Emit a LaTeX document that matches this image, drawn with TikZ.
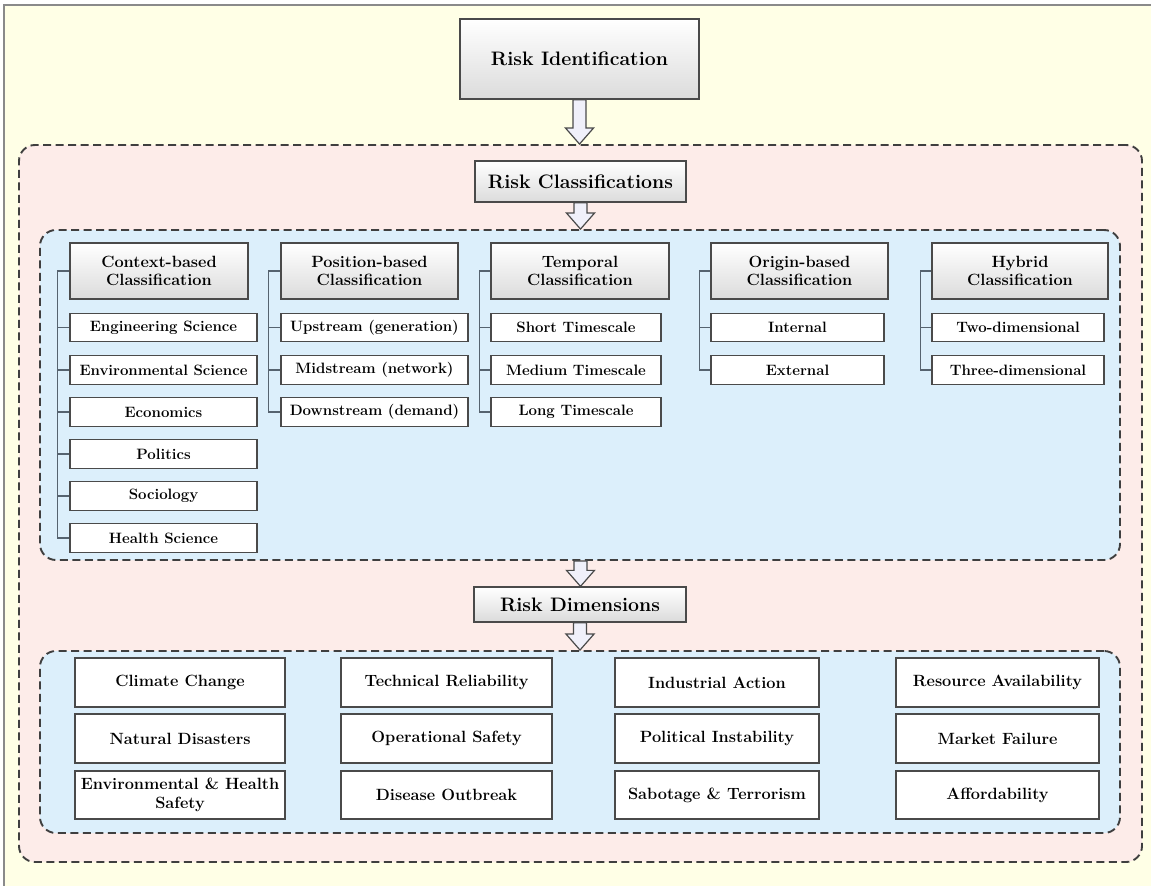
\documentclass[tikz,border=0pt]{standalone}
\usepackage{fontspec}
\usetikzlibrary{calc}
\definecolor{bgyellow}{HTML}{FFFFE6}
\definecolor{pinkbg}{HTML}{FDECE9}
\definecolor{bluebg}{HTML}{DCEFFB}
\definecolor{dashgray}{HTML}{3F3F3F}
\definecolor{boxgray}{HTML}{4A4A4A}
\definecolor{treecol}{HTML}{56636F}
\definecolor{framegray}{HTML}{8A8A8A}
\definecolor{arrowfill}{HTML}{F0F0FA}
\newcommand{\myBigFont}{\fontsize{19.5}{23}\selectfont\bfseries}
\newcommand{\myHdrFont}{\fontsize{16.3}{18.5}\selectfont\bfseries}
\newcommand{\myItemFont}{\fontsize{15}{17}\selectfont\bfseries}
\newcommand{\myDimFont}{\fontsize{16.3}{19}\selectfont\bfseries}
\newcommand{\blockarrow}[2]{%
  \draw[blockarr] let \p1=(#1), \p2=(#2) in
    (\x1-6.5pt,\y1) -- (\x1-6.5pt,\y2+16pt) -- (\x1-14pt,\y2+16pt) -- (\x1,\y2)
    -- (\x1+14pt,\y2+16pt) -- (\x1+6.5pt,\y2+16pt) -- (\x1+6.5pt,\y1) -- cycle;}
\begin{document}
\begin{tikzpicture}[x=1pt,y=-1pt,
  container/.style={draw=dashgray, line width=1.9pt, dash pattern=on 8pt off 4.5pt,
    rounded corners=16pt, inner sep=0pt},
  mainbox/.style={draw=boxgray, line width=1.3pt, top color=white, bottom color=black!14,
    align=center, inner sep=0pt},
  hdr/.style={draw=boxgray, line width=1.3pt, top color=white, bottom color=black!14,
    align=center, inner sep=0pt, font=\myHdrFont, minimum height=56pt},
  item/.style={draw=boxgray, line width=1.2pt, fill=white, align=center, inner sep=0pt,
    font=\myItemFont, minimum height=28.5pt},
  dim/.style={draw=boxgray, line width=1.3pt, fill=white, align=center, inner sep=0pt,
    font=\myDimFont},
  tree/.style={draw=treecol, line width=1.5pt},
  blockarr/.style={draw=boxgray, line width=1.2pt, fill=arrowfill, line join=miter}
]
\useasboundingbox (0,0) rectangle (1151,886);
\fill[bgyellow] (4,5) rectangle (1151,886);
\draw[framegray, line width=1.5pt] (4,886) -- (4,5) -- (1151,5);

% containers
\node[container, fill=pinkbg, minimum width=1123pt, minimum height=717pt] (outer) at (580.5,503.5) {};
\node[container, fill=bluebg, minimum width=1080pt, minimum height=330pt] (clsarea) at (580,395) {};
\node[container, fill=bluebg, minimum width=1080pt, minimum height=182pt] (dimarea) at (580,742) {};

% main boxes
\node[mainbox, font=\myBigFont, minimum width=239pt, minimum height=80pt] (rid) at (579.5,59) {Risk Identification};
\node[mainbox, font=\myBigFont, minimum width=211pt, minimum height=41pt] (rcl) at (580.5,181.5) {Risk Classifications};
\node[mainbox, font=\myBigFont, minimum width=212pt, minimum height=35pt] (rdm) at (580,604.5) {Risk Dimensions};

% block arrows
\blockarrow{rid.south}{rid.south |- outer.north}
\blockarrow{rcl.south}{rcl.south |- clsarea.north}
\blockarrow{rcl.south |- clsarea.south}{rdm.north}
\blockarrow{rdm.south}{rdm.south |- dimarea.north}

% classification headers
\node[hdr, minimum width=178pt] (ctxh) at (159,271) {Context-based\\Classification};
\node[hdr, minimum width=177pt] (posh) at (369.5,271) {Position-based\\Classification};
\node[hdr, minimum width=178pt] (temh) at (580,271) {Temporal\\Classification};
\node[hdr, minimum width=177pt] (orih) at (799.5,271) {Origin-based\\Classification};
\node[hdr, minimum width=176pt] (hybh) at (1020,271) {Hybrid\\Classification};

% context items
\node[item, minimum width=187pt] (c1) at (163.5,327.5) {Engineering Science};
\node[item, minimum width=187pt] (c2) at (163.5,370) {Environmental Science};
\node[item, minimum width=187pt] (c3) at (163.5,412) {Economics};
\node[item, minimum width=187pt] (c4) at (163.5,454) {Politics};
\node[item, minimum width=187pt] (c5) at (163.5,496) {Sociology};
\node[item, minimum width=187pt] (c6) at (163.5,538) {Health Science};
% position items
\node[item, minimum width=187pt] (p1) at (374.5,327.5) {Upstream (generation)};
\node[item, minimum width=187pt] (p2) at (374.5,370) {Midstream (network)};
\node[item, minimum width=187pt] (p3) at (374.5,412) {Downstream (demand)};
% temporal items
\node[item, minimum width=170pt] (t1) at (576,327.5) {Short Timescale};
\node[item, minimum width=170pt] (t2) at (576,370) {Medium Timescale};
\node[item, minimum width=170pt] (t3) at (576,412) {Long Timescale};
% origin items
\node[item, minimum width=173pt] (o1) at (797.5,327.5) {Internal};
\node[item, minimum width=173pt] (o2) at (797.5,370) {External};
% hybrid items
\node[item, minimum width=172pt] (h1) at (1018,327.5) {Two-dimensional};
\node[item, minimum width=172pt] (h2) at (1018,370) {Three-dimensional};

% trees
\draw[tree] (ctxh.west) -- ++(-12pt,0) |- (c6.west);
\foreach \n in {c1,c2,c3,c4,c5} \draw[tree] (\n.west) -- ++(-12pt,0);
\draw[tree] (posh.west) -- ++(-12pt,0) |- (p3.west);
\foreach \n in {p1,p2} \draw[tree] (\n.west) -- ++(-12pt,0);
\draw[tree] (temh.west) -- ++(-11pt,0) |- (t3.west);
\foreach \n in {t1,t2} \draw[tree] (\n.west) -- ++(-11pt,0);
\draw[tree] (orih.west) -- ++(-11pt,0) |- (o2.west);
\draw[tree] (o1.west) -- ++(-11pt,0);
\draw[tree] (hybh.west) -- ++(-11pt,0) |- (h2.west);
\draw[tree] (h1.west) -- ++(-11pt,0);

% dimensions
\node[dim, minimum width=210pt, minimum height=49pt] (d11) at (180,682.5) {Climate Change};
\node[dim, minimum width=210pt, minimum height=49pt] (d21) at (180,738.5) {Natural Disasters};
\node[dim, minimum width=210pt, minimum height=48pt] (d31) at (180,795) {Environmental \& Health\\Safety};
\node[dim, minimum width=211pt, minimum height=49pt] (d12) at (446.5,682.5) {Technical Reliability};
\node[dim, minimum width=211pt, minimum height=49pt] (d22) at (446.5,738.5) {Operational Safety};
\node[dim, minimum width=211pt, minimum height=48pt] (d32) at (446.5,795) {Disease Outbreak};
\node[dim, minimum width=204pt, minimum height=49pt] (d13) at (717,682.5) {Industrial Action};
\node[dim, minimum width=204pt, minimum height=49pt] (d23) at (717,738.5) {Political Instability};
\node[dim, minimum width=204pt, minimum height=48pt] (d33) at (717,795) {Sabotage \& Terrorism};
\node[dim, minimum width=203pt, minimum height=49pt] (d14) at (997.5,682.5) {Resource Availability};
\node[dim, minimum width=203pt, minimum height=49pt] (d24) at (997.5,738.5) {Market Failure};
\node[dim, minimum width=203pt, minimum height=48pt] (d34) at (997.5,795) {Affordability};
\end{tikzpicture}
\end{document}
